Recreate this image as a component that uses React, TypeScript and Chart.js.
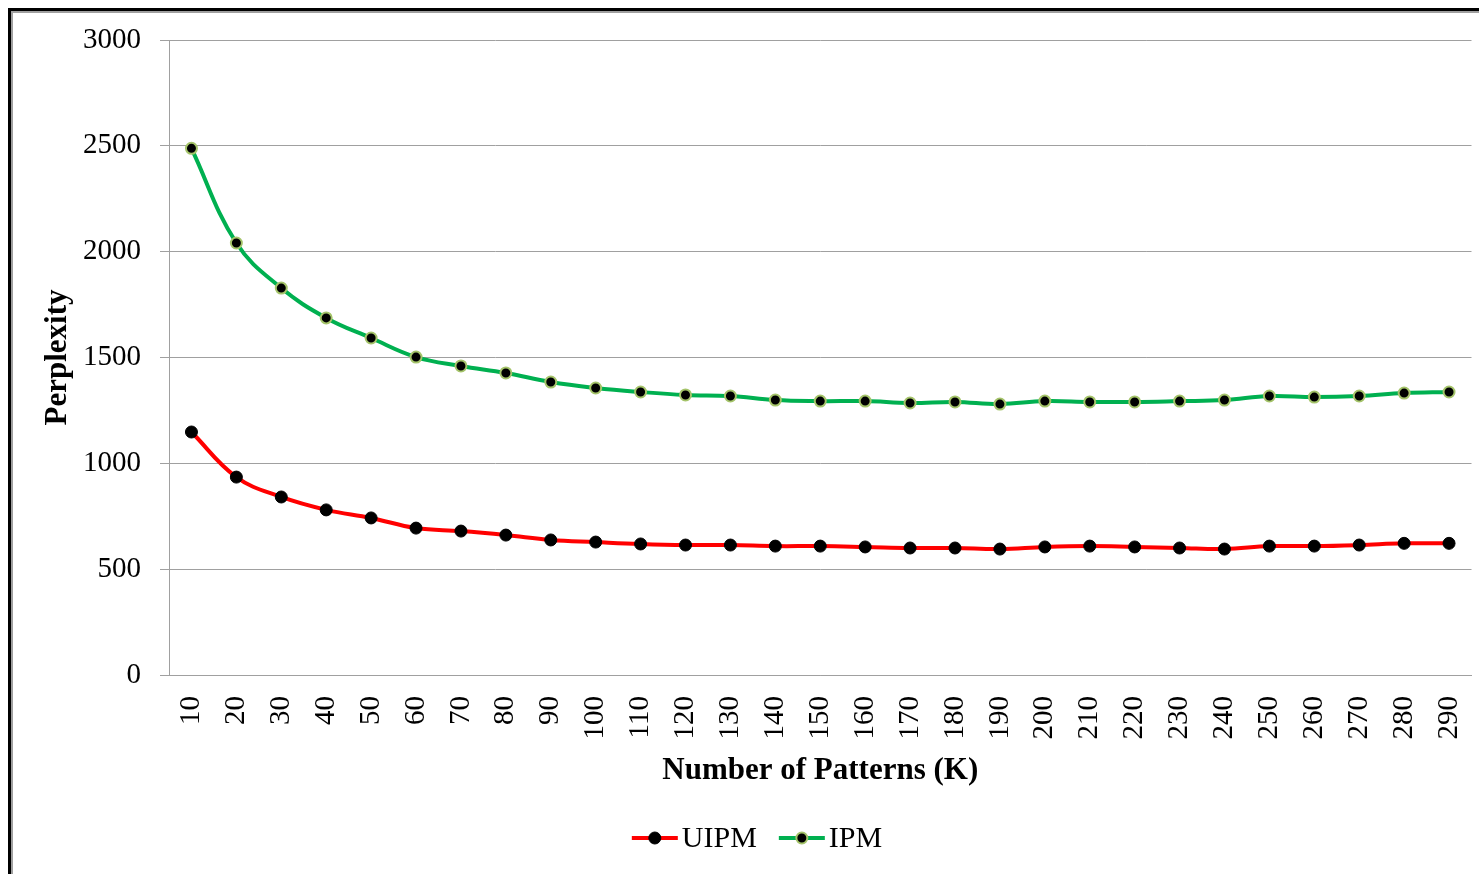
import React, { useEffect, useRef } from "react";
import { Chart, registerables } from "chart.js";

Chart.register(...registerables);

const categories = [
  "10", "20", "30", "40", "50", "60", "70", "80", "90", "100",
  "110", "120", "130", "140", "150", "160", "170", "180", "190", "200",
  "210", "220", "230", "240", "250", "260", "270", "280", "290",
];

const uipmValues = [
  1148, 935, 841, 780, 742, 694, 680, 661, 638, 628,
  619, 614, 614, 609, 609, 605, 600, 600, 595, 605,
  609, 605, 600, 595, 609, 609, 614, 622, 622,
];

const ipmValues = [
  2488, 2041, 1828, 1687, 1592, 1502, 1460, 1427, 1384, 1356,
  1337, 1323, 1318, 1299, 1294, 1294, 1285, 1290, 1280, 1294,
  1290, 1290, 1294, 1299, 1318, 1313, 1318, 1332, 1337,
];

const yMin = 0;
const yMax = 3000;
const yStep = 500;

const seriesNames = ["UIPM", "IPM"];
const xTitle = "Number of Patterns (K)";
const yTitle = "Perplexity";

const SERIF = '"Liberation Serif", "Times New Roman", serif';

const legendPlugin = {
  id: "lineDotLegend",
  afterDraw(chart: any) {
    const ctx = chart.ctx as CanvasRenderingContext2D;
    const datasets = chart.data.datasets;
    ctx.save();
    ctx.font = `30px ${SERIF}`;
    const lineLen = 46;
    const gapText = 4;
    const gapItem = 22;
    const widths = datasets.map((d: any) => lineLen + gapText + ctx.measureText(d.label).width);
    const total = widths.reduce((a: number, b: number) => a + b, 0) + gapItem * (datasets.length - 1);
    let x = chart.width / 2 + 11 - total / 2;
    const y = chart.height - 36;
    datasets.forEach((d: any, i: number) => {
      ctx.strokeStyle = d.borderColor;
      ctx.lineWidth = 4;
      ctx.beginPath();
      ctx.moveTo(x, y);
      ctx.lineTo(x + lineLen, y);
      ctx.stroke();
      ctx.beginPath();
      ctx.arc(x + lineLen / 2, y, d.pointRadius, 0, Math.PI * 2);
      ctx.fillStyle = d.pointBackgroundColor;
      ctx.fill();
      ctx.lineWidth = d.pointBorderWidth;
      ctx.strokeStyle = d.pointBorderColor;
      ctx.stroke();
      ctx.fillStyle = "#000";
      ctx.textBaseline = "middle";
      ctx.textAlign = "left";
      ctx.fillText(d.label, x + lineLen + gapText, y + 1);
      x += widths[i] + gapItem;
    });
    ctx.restore();
  },
};

export default function App() {
  const canvasRef = useRef<HTMLCanvasElement | null>(null);

  useEffect(() => {
    if (!canvasRef.current) return;
    const chart = new Chart(canvasRef.current, {
      type: "line",
      data: {
        labels: categories,
        datasets: [
          {
            label: seriesNames[0],
            data: uipmValues,
            borderColor: "#FF0000",
            backgroundColor: "#FF0000",
            borderWidth: 4,
            tension: 0.4,
            pointRadius: 6,
            pointBackgroundColor: "#000000",
            pointBorderColor: "#000000",
            pointBorderWidth: 1,
          },
          {
            label: seriesNames[1],
            data: ipmValues,
            borderColor: "#00B050",
            backgroundColor: "#00B050",
            borderWidth: 4,
            tension: 0.4,
            pointRadius: 5.5,
            pointBackgroundColor: "#000000",
            pointBorderColor: "#A5C46A",
            pointBorderWidth: 2,
          },
        ],
      },
      options: {
        animation: false,
        responsive: false,
        layout: { padding: { left: 0, right: 6, top: 27, bottom: 82.4 } },
        plugins: {
          legend: { display: false },
          tooltip: { enabled: false },
        },
        scales: {
          x: {
            offset: true,
            grid: { display: false, drawTicks: false },
            border: { display: true, color: "#a0a0a0", width: 1 },
            ticks: {
              autoSkip: false,
              minRotation: 90,
              maxRotation: 90,
              padding: 21,
              color: "#000",
              font: { family: SERIF, size: 29 },
            },
            title: {
              display: true,
              text: xTitle,
              color: "#000",
              font: { family: SERIF, size: 31, weight: "bold" },
              padding: { top: 0, bottom: 2 },
            },
            afterFit(scale: any) {
              scale.height = 116.6;
              scale.paddingLeft = 0;
              scale.paddingRight = 0;
              scale.paddingTop = 0;
              scale.paddingBottom = 0;
            },
          },
          y: {
            min: yMin,
            max: yMax,
            grid: { color: "#a0a0a0", lineWidth: 1, tickLength: 9, drawTicks: true },
            border: { display: true, color: "#a0a0a0", width: 1 },
            ticks: {
              stepSize: yStep,
              padding: 19,
              color: "#000",
              font: { family: SERIF, size: 29 },
              callback: (v: any) => String(v),
            },
            title: {
              display: true,
              text: yTitle,
              color: "#000",
              font: { family: SERIF, size: 31, weight: "bold" },
              padding: { top: 26.4, bottom: 0 },
            },
            afterFit(scale: any) {
              scale.width = 156;
              scale.paddingLeft = 0;
              scale.paddingRight = 0;
              scale.paddingTop = 0;
              scale.paddingBottom = 0;
            },
          },
        },
      },
      plugins: [legendPlugin],
    });
    return () => chart.destroy();
  }, []);

  return (
    <div
      style={{
        position: "fixed",
        left: 8,
        top: 8,
        width: 1471,
        height: 866,
        borderTop: "3px solid #000",
        borderLeft: "3px solid #000",
        boxSizing: "border-box",
        background: "#fff",
      }}
    >
      <div
        style={{
          width: "100%",
          height: "100%",
          borderTop: "2px solid #a0a0a0",
          borderLeft: "2px solid #a0a0a0",
          boxSizing: "border-box",
        }}
      >
        <canvas ref={canvasRef} width={1466} height={861} style={{ display: "block" }} />
      </div>
    </div>
  );
}
